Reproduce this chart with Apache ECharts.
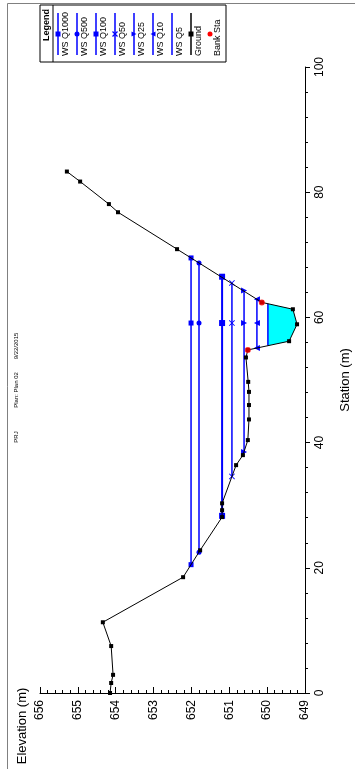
<!DOCTYPE html>
<html>
<head>
<meta charset="utf-8">
<script src="https://cdn.jsdelivr.net/npm/echarts@6/dist/echarts.min.js"></script>
<style>
  html, body { margin: 0; padding: 0; background: #ffffff; }
  #chart { width: 355px; height: 769px; }
</style>
</head>
<body>
<div id="chart"></div>
<script>
// Ground profile of the cross section
const groundStation = [0, 1.6, 2.9, 7.5, 11.3, 18.5, 22.8, 28.1, 29.2, 30.3, 36.4, 38.0, 40.4, 43.7, 46.0, 48.1, 49.7, 53.6, 54.8, 56.2, 58.9, 61.3, 62.4, 70.9, 76.8, 78.1, 81.7, 83.3];
const groundElevation = [654.15, 654.12, 654.07, 654.12, 654.34, 652.22, 651.77, 651.19, 651.19, 651.19, 650.82, 650.64, 650.51, 650.48, 650.48, 650.48, 650.50, 650.56, 650.51, 649.42, 649.21, 649.32, 650.14, 652.38, 653.94, 654.18, 654.94, 655.29];

// Bank stations
const bankStation = [54.8, 62.4];
const bankElevation = [650.51, 650.14];

// Water surface profiles
const wsNames = ['WS Q1000', 'WS Q500', 'WS Q100', 'WS Q50', 'WS Q25', 'WS Q10', 'WS Q5'];
const wsElevation = [652.01, 651.80, 651.19, 650.93, 650.61, 650.27, 649.98];
const wsLeftStation = [20.5, 22.5, 28.3, 34.6, 38.5, 55.1, 55.5];
const wsRightStation = [69.5, 68.7, 66.5, 65.5, 64.3, 62.9, 62.2];
const wsMarkerStation = 59.1;

// Axis ranges / ticks
const elevationTicks = [649, 650, 651, 652, 653, 654, 655, 656];
const stationTicks = [0, 20, 40, 60, 80, 100];

const FONT = 'Liberation Sans, Arial, sans-serif';
const BLUE = '#0000ff';
const crossPath = 'path://M1,0L5,4L9,0L10,1L6,5L10,9L9,10L5,6L1,10L0,9L4,5L0,1Z';
const wsSymbol = ['rect', 'circle', 'rect', crossPath, 'triangle', 'triangle', 'none'];
const wsSymbolSize = [5, 5, 6, 6, 6, 6, 0];
const wsSymbolRotate = [0, 0, 0, 0, -90, 90, 0];

const groundData = groundStation.map((s, i) => [groundElevation[i], s]);
const bankData = bankStation.map((s, i) => [bankElevation[i], s]);

// Wetted area of the lowest profile: water line plus ground points below it
const lowIdx = wsNames.length - 1;
const fillPoints = [[wsElevation[lowIdx], wsLeftStation[lowIdx]]]
  .concat(groundData.filter(p => p[1] > wsLeftStation[lowIdx] && p[1] < wsRightStation[lowIdx]))
  .concat([[wsElevation[lowIdx], wsRightStation[lowIdx]]]);

const wsSeries = wsNames.map((name, i) => ({
  type: 'line',
  name: name,
  z: 3,
  silent: true,
  showAllSymbol: true,
  symbol: wsSymbol[i],
  symbolSize: wsSymbolSize[i],
  symbolRotate: wsSymbolRotate[i],
  data: [
    [wsElevation[i], wsLeftStation[i]],
    [wsElevation[i], wsMarkerStation],
    [wsElevation[i], wsRightStation[i]]
  ],
  lineStyle: { color: BLUE, width: i === 2 ? 2 : 1.5 },
  itemStyle: { color: BLUE }
}));

// Legend drawn as rotated columns
const legendX = 40, legendY = 5, legendH = 57, headerW = 13, pitch = 19;
const legendNames = wsNames.concat(['Ground', 'Bank Sta']);
const legendEls = [];
legendEls.push({
  type: 'rect', shape: { x: legendX, y: legendY, width: headerW + pitch * legendNames.length + 2, height: legendH },
  style: { fill: '#fff', stroke: '#000', lineWidth: 1 }
});
legendEls.push({
  type: 'line', shape: { x1: legendX + headerW, y1: legendY, x2: legendX + headerW, y2: legendY + legendH },
  style: { stroke: '#000', lineWidth: 1 }
});
legendEls.push({
  type: 'text', x: legendX + headerW / 2 + 0.5, y: 25, rotation: Math.PI / 2,
  style: { text: 'Legend', font: 'bold 9px ' + FONT, fill: '#000', align: 'center', verticalAlign: 'middle' }
});
function legendMarker(kind, cx, cy, color) {
  const s = 2.5;
  if (kind === 'rect') return { type: 'rect', shape: { x: cx - s, y: cy - s, width: 2 * s, height: 2 * s }, style: { fill: color } };
  if (kind === 'circle') return { type: 'circle', shape: { cx: cx, cy: cy, r: s }, style: { fill: color } };
  if (kind === 'cross') return { type: 'polyline', shape: { points: [[cx - s, cy - s], [cx + s, cy + s]] }, style: { stroke: color, lineWidth: 1.2 } };
  if (kind === 'triR') return { type: 'polygon', shape: { points: [[cx - s, cy - s], [cx + s, cy], [cx - s, cy + s]] }, style: { fill: color } };
  if (kind === 'triL') return { type: 'polygon', shape: { points: [[cx + s, cy - s], [cx - s, cy], [cx + s, cy + s]] }, style: { fill: color } };
  return null;
}
const legendKinds = ['rect', 'circle', 'rect', 'cross', 'triR', 'triL', 'none', 'rect', 'circle'];
legendNames.forEach((name, i) => {
  const x0 = legendX + headerW + pitch * i;
  const lx = x0 + 5;
  const isBank = name === 'Bank Sta';
  const isGround = name === 'Ground';
  const color = isBank ? '#ff0000' : (isGround ? '#000' : BLUE);
  if (!isBank) {
    legendEls.push({ type: 'line', shape: { x1: lx, y1: 13, x2: lx, y2: 55 }, style: { stroke: color, lineWidth: 1.5 } });
  }
  const mk = legendMarker(legendKinds[i], lx, 34, color);
  if (mk) legendEls.push(mk);
  if (legendKinds[i] === 'cross') {
    legendEls.push({ type: 'polyline', shape: { points: [[lx + 2.5, 31.5], [lx - 2.5, 36.5]] }, style: { stroke: color, lineWidth: 1.2 } });
  }
  legendEls.push({
    type: 'text', x: x0 + 13, y: 56, rotation: Math.PI / 2,
    style: { text: name, font: '9px ' + FONT, fill: '#000', align: 'left', verticalAlign: 'middle' }
  });
});

const chart = echarts.init(document.getElementById('chart'), null, { renderer: 'canvas' });
chart.setOption({
  animation: false,
  backgroundColor: '#ffffff',
  grid: { left: 40, right: 50, top: 67, bottom: 76, containLabel: false, outerBoundsMode: 'none' },
  xAxis: {
    type: 'value',
    min: elevationTicks[0], max: elevationTicks[elevationTicks.length - 1], interval: 1,
    inverse: true, position: 'bottom',
    axisLine: { show: true, onZero: false, lineStyle: { color: '#000', width: 1 } },
    axisTick: { show: true, inside: true, length: 6, lineStyle: { color: '#000' } },
    minorTick: { show: true, splitNumber: 5, length: 3, lineStyle: { color: '#000' } },
    splitLine: { show: false },
    axisLabel: { rotate: 90, color: '#000', fontSize: 12, fontFamily: FONT, margin: 7 }
  },
  yAxis: {
    type: 'value',
    min: stationTicks[0], max: stationTicks[stationTicks.length - 1], interval: 20,
    position: 'right',
    axisLine: { show: true, onZero: false, lineStyle: { color: '#000', width: 1 } },
    axisTick: { show: true, inside: false, length: 5, lineStyle: { color: '#000' } },
    minorTick: { show: true, splitNumber: 5, length: 3, lineStyle: { color: '#000' } },
    splitLine: { show: false },
    axisLabel: { rotate: 90, color: '#000', fontSize: 12, fontFamily: FONT, margin: 9 }
  },
  graphic: [
    { type: 'rect', shape: { x: 7.5, y: 3.5, width: 400, height: 800 }, style: { fill: 'none', stroke: '#808080', lineWidth: 1 }, silent: true },
    { type: 'text', x: 16, y: 437, rotation: Math.PI / 2, style: { text: 'PRJ', font: '6px ' + FONT, fill: '#000', align: 'center', verticalAlign: 'middle' } },
    { type: 'text', x: 16, y: 390, rotation: Math.PI / 2, style: { text: 'Plan: Plan 02', font: '6px ' + FONT, fill: '#000', align: 'center', verticalAlign: 'middle' } },
    { type: 'text', x: 16, y: 346, rotation: Math.PI / 2, style: { text: '9/22/2015', font: '6px ' + FONT, fill: '#000', align: 'center', verticalAlign: 'middle' } },
    { type: 'text', x: 345, y: 380, rotation: Math.PI / 2, style: { text: 'Station (m)', font: '13px ' + FONT, fill: '#000', align: 'center', verticalAlign: 'middle' } },
    { type: 'text', x: 22, y: 726, rotation: Math.PI / 2, style: { text: 'Elevation (m)', font: '13px ' + FONT, fill: '#000', align: 'center', verticalAlign: 'middle' } },
    { type: 'group', children: legendEls }
  ],
  series: [
    {
      type: 'custom',
      z: 1,
      silent: true,
      data: [[wsElevation[lowIdx], wsMarkerStation]],
      renderItem: function (params, api) {
        return {
          type: 'polygon',
          shape: { points: fillPoints.map(p => api.coord(p)) },
          style: { fill: '#00ffff', stroke: 'none' }
        };
      }
    }
  ].concat(wsSeries).concat([
    {
      type: 'line',
      name: 'Ground',
      z: 4,
      silent: true,
      data: groundData,
      showAllSymbol: true,
      symbol: 'rect',
      symbolSize: 4,
      lineStyle: { color: '#000', width: 1 },
      itemStyle: { color: '#000' }
    },
    {
      type: 'scatter',
      name: 'Bank Sta',
      z: 5,
      silent: true,
      data: bankData,
      symbol: 'circle',
      symbolSize: 6,
      itemStyle: { color: '#ff0000' }
    }
  ])
});
</script>
</body>
</html>
